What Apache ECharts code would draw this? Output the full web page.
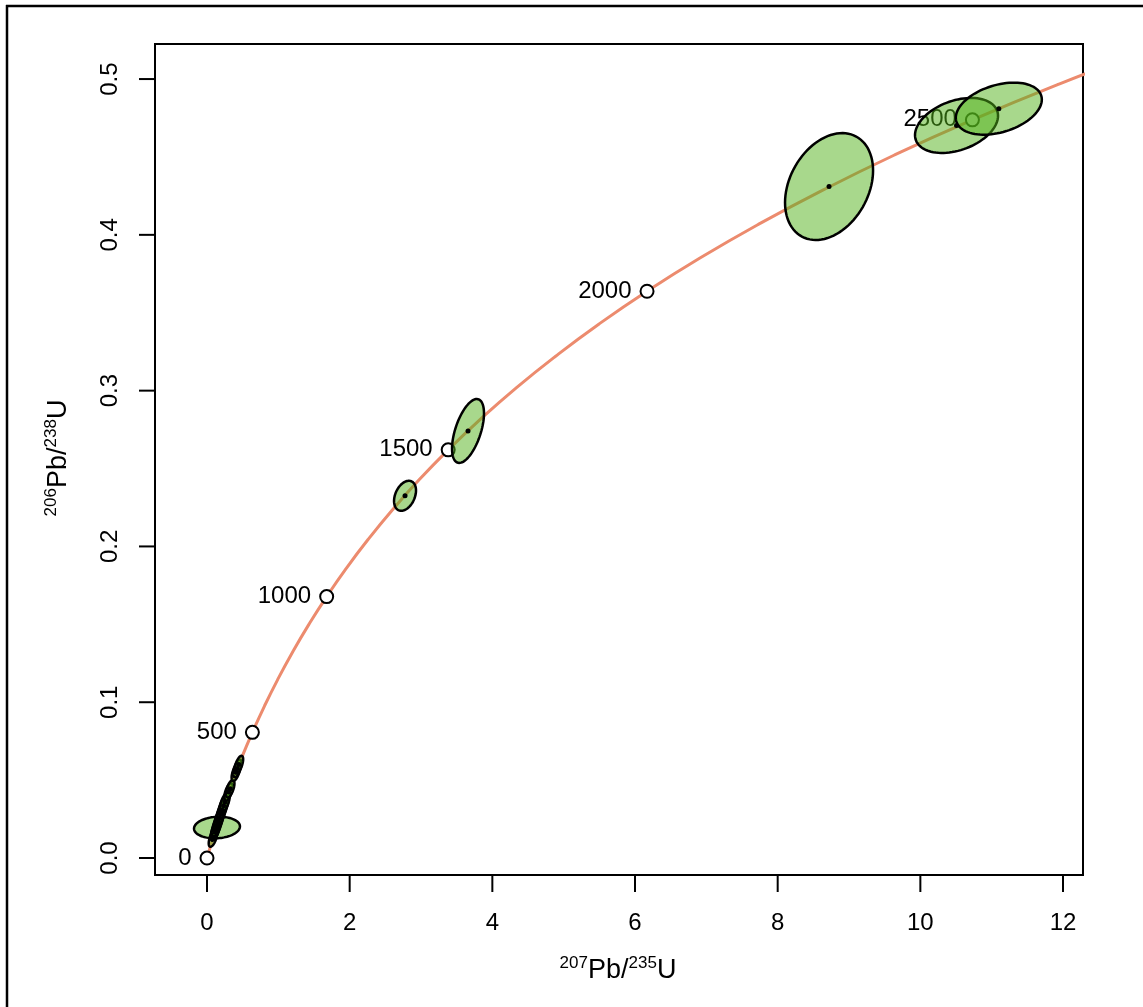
<!DOCTYPE html>
<html>
<head>
<meta charset="utf-8">
<script src="https://cdn.jsdelivr.net/npm/echarts@6/dist/echarts.min.js"></script>
<style>
html,body{margin:0;padding:0;background:#fff;}
#chart{width:1143px;height:1007px;}
</style>
</head>
<body>
<div id="chart"></div>
<script>
// Concordia curve (tabulated, ages 0..2700 Ma step 100)
const curveX = [0, 0.1035, 0.2177, 0.3437, 0.4828, 0.6363, 0.8056, 0.9925, 1.1987, 1.4263, 1.6774,
  1.9545, 2.2603, 2.5977, 2.9701, 3.3810, 3.8344, 4.3348, 4.8869, 5.4962, 6.1685,
  6.9104, 7.7291, 8.6326, 9.6296, 10.7297, 11.9437, 13.2834];
const curveY = [0, 0.01563, 0.03151, 0.04764, 0.06402, 0.08065, 0.09754, 0.1147, 0.1321, 0.1498, 0.1678,
  0.1861, 0.2046, 0.2234, 0.2426, 0.2620, 0.2817, 0.3018, 0.3221, 0.3428, 0.3638,
  0.3851, 0.4067, 0.4287, 0.4511, 0.4738, 0.4968, 0.5202];

// Age markers
const ageLabels = ['0', '500', '1000', '1500', '2000', '2500'];
const ageX = [0, 0.6363, 1.6774, 3.3810, 6.1685, 10.7297];
const ageY = [0, 0.08065, 0.1678, 0.2620, 0.3638, 0.4738];

// Error ellipses: centre, x half-range, y half-range, correlation
const ellX   = [0.140, 0.0839, 0.1107, 0.120, 0.1375, 0.156, 0.1745, 0.193, 0.2124, 0.232, 0.2509, 0.3018, 0.325, 0.4046, 0.425, 0.447, 2.776, 3.659, 8.72, 10.507, 11.10];
const ellY   = [0.01958, 0.0128, 0.0167, 0.0180, 0.0205, 0.0231, 0.0257, 0.0282, 0.0308, 0.0335, 0.0359, 0.0424, 0.0445, 0.0550, 0.0575, 0.0600, 0.2325, 0.2741, 0.431, 0.4702, 0.4810];
const ellSX  = [0.322, 0.06, 0.06, 0.065, 0.068, 0.068, 0.068, 0.068, 0.068, 0.068, 0.068, 0.06, 0.06, 0.06, 0.06, 0.06, 0.154, 0.224, 0.617, 0.582, 0.603];
const ellSY  = [0.00693, 0.0056, 0.0056, 0.006, 0.0062, 0.0062, 0.0062, 0.0062, 0.0062, 0.0062, 0.0062, 0.0056, 0.0056, 0.0056, 0.0056, 0.0056, 0.00963, 0.0205, 0.0343, 0.01765, 0.0167];
const ellRho = [0.1, 0.6, 0.6, 0.6, 0.6, 0.6, 0.6, 0.6, 0.6, 0.6, 0.6, 0.6, 0.6, 0.6, 0.6, 0.6, 0.35, 0.55, 0.3, 0.35, 0.35];

// Tick values
const xTicks = [0, 2, 4, 6, 8, 10, 12];
const yTicks = [0, 0.1, 0.2, 0.3, 0.4, 0.5];

const X_MIN = -0.729, X_MAX = 12.28, Y_MIN = -0.0109, Y_MAX = 0.5225;
const FONT = 'Liberation Sans, Arial, Helvetica, sans-serif';

const curveData = curveX.map((x, i) => [x, curveY[i]]);
const ageData = ageX.map((x, i) => ({ value: [x, ageY[i]], name: ageLabels[i] }));
const ellData = ellX.map((x, i) => [x, ellY[i], ellSX[i], ellSY[i], ellRho[i]]);
const centreData = ellX.map((x, i) => [x, ellY[i]]);
const xTickData = xTicks.map(v => [v, Y_MIN]);
const yTickData = yTicks.map(v => [X_MIN, v]);

function renderEllipse(params, api) {
  const cx = api.value(0), cy = api.value(1), sx = api.value(2), sy = api.value(3), r = api.value(4);
  const k = Math.sqrt(1 - r * r);
  const pts = [];
  const n = 90;
  for (let i = 0; i < n; i++) {
    const t = i / n * 2 * Math.PI;
    const c = Math.cos(t), s = Math.sin(t);
    pts.push(api.coord([cx + sx * c, cy + sy * (r * c + k * s)]));
  }
  return {
    type: 'polygon',
    shape: { points: pts },
    style: { fill: 'rgba(81,177,25,0.5)', stroke: '#000', lineWidth: 2.5 }
  };
}
function renderXTick(params, api) {
  const p = api.coord([api.value(0), api.value(1)]);
  return { type: 'line', shape: { x1: p[0], y1: p[1], x2: p[0], y2: p[1] + 17 }, style: { stroke: '#000', lineWidth: 2 } };
}
function renderYTick(params, api) {
  const p = api.coord([api.value(0), api.value(1)]);
  return { type: 'line', shape: { x1: p[0], y1: p[1], x2: p[0] - 16, y2: p[1] }, style: { stroke: '#000', lineWidth: 2 } };
}

const chart = echarts.init(document.getElementById('chart'), null, { renderer: 'canvas' });
chart.setOption({
  backgroundColor: '#fff',
  animation: false,
  grid: { left: 155, right: 60, top: 44, bottom: 132, show: true, borderColor: '#000', borderWidth: 2, backgroundColor: 'transparent' },
  xAxis: {
    type: 'value', min: X_MIN, max: X_MAX, position: 'bottom',
    axisLine: { show: false, onZero: false }, splitLine: { show: false }, axisTick: { show: false },
    axisLabel: { customValues: xTicks, margin: 36, fontSize: 24, color: '#000', fontFamily: FONT, formatter: v => String(Math.round(v)) }
  },
  yAxis: {
    type: 'value', min: Y_MIN, max: Y_MAX, position: 'left',
    axisLine: { show: false, onZero: false }, splitLine: { show: false }, axisTick: { show: false },
    axisLabel: { customValues: yTicks, margin: 33, rotate: 90, fontSize: 24, color: '#000', fontFamily: FONT, formatter: v => v.toFixed(1) }
  },
  series: [
    {
      type: 'line', data: curveData, smooth: true, showSymbol: false, symbol: 'none', z: 2,
      lineStyle: { color: '#EC8B6E', width: 3 }, clip: true, silent: true
    },
    {
      type: 'scatter', data: ageData, z: 3, symbol: 'circle', symbolSize: 13,
      itemStyle: { color: '#fff', borderColor: '#000', borderWidth: 2, opacity: 1 },
      label: { show: true, position: 'left', distance: 8, formatter: p => p.name, fontSize: 24, color: '#000', fontFamily: FONT, opacity: 1 }
    },
    {
      type: 'custom', data: ellData, renderItem: renderEllipse, z: 4, clip: true,
      encode: { x: 0, y: 1 }
    },
    {
      type: 'scatter', data: centreData, z: 5, symbol: 'circle', symbolSize: 5,
      itemStyle: { color: '#000', opacity: 1 }
    },
    { type: 'custom', data: xTickData, renderItem: renderXTick, clip: false, z: 6, silent: true, encode: { x: 0, y: 1 } },
    { type: 'custom', data: yTickData, renderItem: renderYTick, clip: false, z: 6, silent: true, encode: { x: 0, y: 1 } }
  ],
  graphic: [
    { type: 'line', z: 100, shape: { x1: 7, y1: 5, x2: 7, y2: 1007 }, style: { stroke: '#000', lineWidth: 2.5 } },
    { type: 'line', z: 100, shape: { x1: 6, y1: 6, x2: 1143, y2: 6 }, style: { stroke: '#000', lineWidth: 2.5 } },
    {
      type: 'text', x: 618, y: 971, z: 100,
      style: {
        text: '{s|207}{m|Pb/}{s|235}{m|U}', align: 'center', verticalAlign: 'middle', fill: '#000',
        rich: {
          s: { fontSize: 17, fontFamily: FONT, verticalAlign: 'top', lineHeight: 17, fill: '#000' },
          m: { fontSize: 27, fontFamily: FONT, lineHeight: 33, fill: '#000' }
        }
      }
    },
    {
      type: 'text', x: 59, y: 458, z: 100, rotation: Math.PI / 2,
      style: {
        text: '{s|206}{m|Pb/}{s|238}{m|U}', align: 'center', verticalAlign: 'middle', fill: '#000',
        rich: {
          s: { fontSize: 17, fontFamily: FONT, verticalAlign: 'top', lineHeight: 17, fill: '#000' },
          m: { fontSize: 27, fontFamily: FONT, lineHeight: 33, fill: '#000' }
        }
      }
    }
  ]
});
</script>
</body>
</html>
